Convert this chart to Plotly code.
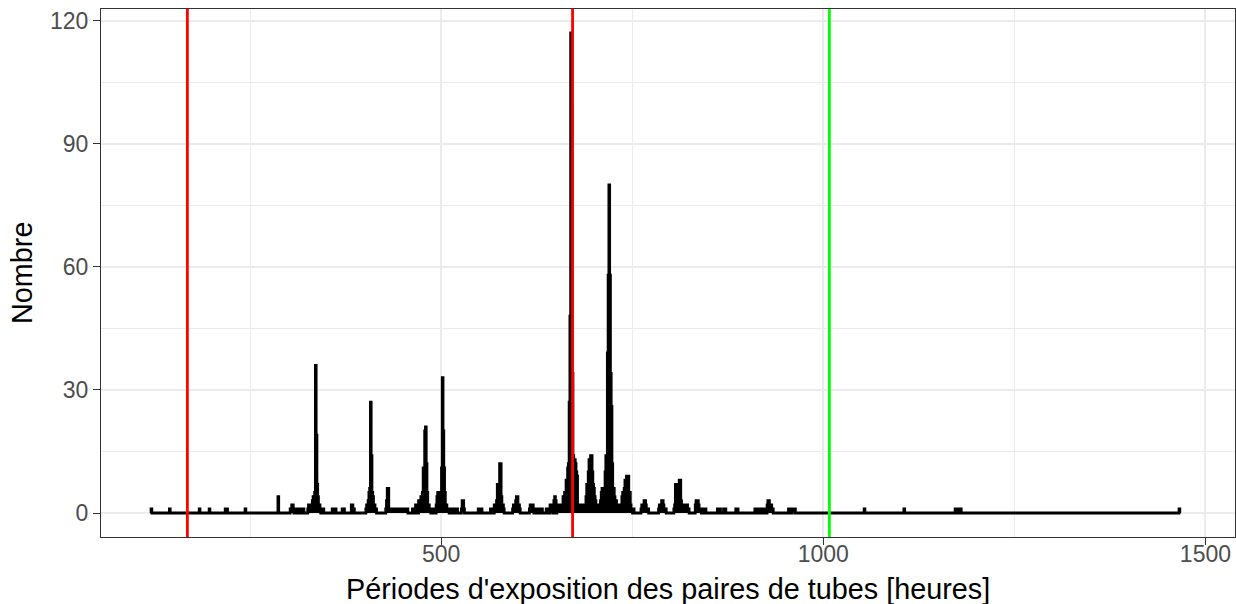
import numpy as np
import plotly.graph_objects as go

# Histogram (binwidth = 1 hour): non-zero bins only
hours = [121, 145, 184, 197, 218, 220, 244, 287,
         303, 304, 305, 306, 307, 309, 310, 312, 314, 316, 318, 320,
         326, 327, 328, 329, 330, 331, 332, 333, 334, 335, 336, 337, 338, 339, 340, 341, 342, 344, 346,
         358, 359, 362, 371, 373, 383, 384, 386,
         402, 403, 404, 405, 406, 407, 408, 409, 410, 411, 412, 413, 414, 415,
         428, 429, 430, 431, 432, 433, 434, 435, 436, 437, 438, 439, 440, 441, 442, 443, 444, 445, 446,
         447, 448, 449, 450, 451, 452, 453, 454, 455, 456,
         463, 465, 467, 469, 471, 472, 473, 474, 475, 476, 477, 478, 479, 480, 481, 482, 483, 484, 485,
         486, 488, 490, 492,
         494, 495, 496, 497, 498, 499, 500, 501, 502, 503, 504, 505, 506, 507, 508, 509, 510,
         513, 515, 517, 519, 521, 527, 528, 529, 530, 549, 551, 553, 565, 567,
         568, 570, 571, 572, 573, 574, 575, 576, 577, 578, 579, 580, 581, 582,
         594, 595, 596, 597, 598, 599, 600, 601, 602, 603,
         616, 617, 618, 619, 620, 621, 624, 626, 628, 630, 632, 638, 640,
         643, 644, 645, 646, 648, 649, 650, 652, 653, 654, 655, 656, 657, 658, 659, 660, 661, 662, 663,
         664, 665, 666, 667, 668, 669, 670, 671, 672, 673, 674, 675, 676, 677, 678, 679, 680, 681, 682,
         683, 684, 685, 686, 687, 688,
         689, 690, 691, 692, 693, 694, 695, 696, 697, 698, 699, 700, 701, 702, 703, 704, 705, 706, 707,
         708, 709, 710, 711, 712, 713, 714, 715, 716, 717, 718, 719, 720, 721, 722, 723, 724, 725, 726,
         727, 728, 729, 730, 731, 732, 733, 734, 735, 736, 737, 738, 739, 740, 741, 742, 743, 744, 745,
         746, 747, 748, 749, 750, 752,
         762, 763, 764, 765, 766, 767, 768, 769, 770, 771,
         785, 786, 787, 788, 789, 790, 791, 792, 793, 794,
         805, 806, 807, 808, 809, 810, 811, 812, 813, 814, 815, 816, 817, 818, 819, 820, 821, 822, 823, 824,
         833, 834, 835, 836, 837, 838, 839, 840, 842, 844, 846,
         862, 865, 870, 872, 886, 888,
         911, 912, 914, 916, 917, 919, 921, 922, 924,
         927, 928, 929, 930, 931, 932, 933, 934,
         955, 956, 958, 960, 961, 962, 963,
         1054, 1106, 1173, 1174, 1176, 1177, 1179, 1180, 1466]

counts = [1, 1, 1, 1, 1, 1, 1, 4,
          1, 1, 2, 2, 1, 1, 1, 1, 1, 1, 1, 1,
          1, 2, 2, 2, 2, 2, 3, 4, 4, 5, 36, 19, 7, 4, 2, 2, 1, 1, 1,
          1, 1, 1, 1, 1, 2, 2, 1,
          1, 2, 2, 3, 5, 6, 27, 14, 5, 4, 2, 2, 1, 1,
          1, 3, 6, 6, 1, 1, 1, 1, 1, 1, 1, 1, 1, 1, 1, 1, 1, 1, 1,
          1, 1, 1, 1, 1, 1, 1, 1, 1, 1,
          1, 1, 2, 2, 3, 3, 3, 4, 4, 5, 11, 11, 20, 21, 12, 5, 2, 2, 1,
          1, 1, 1, 1,
          2, 4, 5, 5, 5, 4, 5, 11, 33, 20, 11, 5, 2, 2, 1, 1, 1,
          1, 1, 1, 1, 1, 1, 3, 3, 1, 1, 1, 1, 1, 1,
          1, 2, 2, 2, 3, 7, 7, 7, 12, 12, 4, 2, 2, 1,
          1, 2, 2, 2, 3, 4, 4, 2, 2, 1,
          1, 2, 2, 2, 2, 1, 1, 1, 1, 1, 1, 1, 1,
          2, 2, 2, 2, 3, 4, 3, 2, 2, 1, 1, 1, 2, 2, 2, 4, 4, 5, 5,
          8, 8, 11, 12, 27, 48, 117, 99, 34, 14, 13, 13, 12, 10, 9, 2, 1, 2, 1,
          2, 1, 2, 1, 2, 2,
          2, 4, 7, 7, 10, 13, 11, 14, 14, 10, 7, 6, 4, 3, 2, 2, 1, 2, 1,
          2, 3, 5, 6, 6, 6, 6, 10, 14, 14, 39, 58, 80, 58, 34, 26, 12, 6, 6,
          4, 3, 3, 2, 2, 2, 1, 1, 1, 2, 4, 5, 5, 6, 8, 8, 9, 9, 9,
          5, 5, 2, 1, 1, 1,
          1, 2, 2, 2, 3, 3, 2, 1, 1, 1,
          1, 2, 2, 2, 3, 3, 2, 1, 1, 1,
          1, 2, 7, 7, 6, 5, 6, 8, 8, 3, 2, 2, 1, 1, 2, 2, 2, 2, 1, 1,
          2, 3, 3, 3, 2, 1, 1, 1, 1, 1, 1,
          1, 1, 1, 1, 1, 1,
          1, 1, 1, 1, 1, 1, 1, 1, 1,
          2, 3, 3, 2, 2, 2, 1, 1,
          1, 1, 1, 1, 1, 1, 1,
          1, 1, 1, 1, 1, 1, 1, 1, 1]

# Reference lines (hours): 1 week, 4 weeks, 6 weeks
red_lines = [168, 672]
green_lines = [1008]

x_tickvals = [500, 1000, 1500]
y_tickvals = [0, 30, 60, 90, 120]
x_title = "Périodes d'exposition des paires de tubes [heures]"
y_title = "Nombre"

# ---- build full histogram (empty bins are zero) ----
n = min(len(hours), len(counts))
h0, h1 = min(hours[:n]), max(hours[:n])
bins = np.arange(h0, h1 + 1)
vals = np.zeros(len(bins))
for h, c in zip(hours[:n], counts[:n]):
    vals[h - h0] = c
left = bins - 0.5
right_end = bins[-1] + 0.5
xs = np.concatenate([[left[0]], left, [right_end, right_end]])
ys = np.concatenate([[0], vals, [vals[-1], 0]])

fig = go.Figure()
fig.add_trace(go.Scatter(
    x=xs, y=ys, mode="lines", line=dict(color="black", width=2.8, shape="hv"),
    fill="tozeroy", fillcolor="black", hoverinfo="skip", showlegend=False))

for v in red_lines:
    fig.add_shape(type="line", xref="x", yref="paper", x0=v, x1=v, y0=0, y1=1,
                  line=dict(color="#FF0000", width=2.8), layer="above")
for v in green_lines:
    fig.add_shape(type="line", xref="x", yref="paper", x0=v, x1=v, y0=0, y1=1,
                  line=dict(color="#00FF00", width=2.8), layer="above")

FONT = "Liberation Sans, Arial, sans-serif"
ymax = max(counts)
fig.update_layout(
    width=1236, height=604,
    margin=dict(l=101, r=1, t=9, b=67),
    paper_bgcolor="white", plot_bgcolor="white",
    font=dict(family=FONT, color="black"),
    showlegend=False,
)
# axis titles as annotations for exact placement
fig.add_annotation(text=x_title, xref="paper", yref="paper", x=0.5, y=0,
                   xanchor="center", yanchor="middle", yshift=-52, showarrow=False,
                   font=dict(family=FONT, size=28.8, color="black"))
fig.add_annotation(text=y_title, xref="paper", yref="paper", x=0, y=0.5, textangle=-90,
                   xanchor="center", yanchor="middle", xshift=-79, showarrow=False,
                   font=dict(family=FONT, size=28.8, color="black"))

fig.update_xaxes(
    range=[55, 1538.7], tickvals=x_tickvals, automargin=False,
    showgrid=True, gridcolor="#EBEBEB", gridwidth=2,
    minor=dict(showgrid=True, gridcolor="#EBEBEB", gridwidth=1, tickvals=[250, 750, 1250], ticklen=0),
    zeroline=False, showline=True, mirror=True, linecolor="#333333", linewidth=1.2,
    ticks="outside", ticklen=7, tickwidth=1.2, tickcolor="#333333",
    ticklabelstandoff=-11,
    tickfont=dict(family=FONT, size=23, color="#4D4D4D"),
)
fig.update_yaxes(
    range=[-0.05 * ymax, 1.05 * ymax], tickvals=y_tickvals, automargin=False,
    showgrid=True, gridcolor="#EBEBEB", gridwidth=2,
    minor=dict(showgrid=True, gridcolor="#EBEBEB", gridwidth=1, tickvals=[15, 45, 75, 105], ticklen=0),
    zeroline=False, showline=True, mirror=True, linecolor="#333333", linewidth=1.2,
    ticks="outside", ticklen=7, tickwidth=1.2, tickcolor="#333333",
    tickfont=dict(family=FONT, size=23, color="#4D4D4D"),
)

fig.write_html("out.html")
